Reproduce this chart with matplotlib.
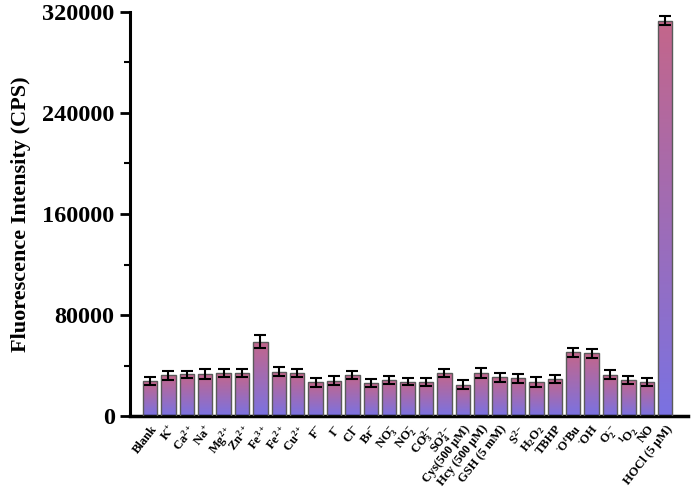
import numpy as np
import matplotlib
matplotlib.use("Agg")
import matplotlib.pyplot as plt
from matplotlib.colors import LinearSegmentedColormap

plt.rcParams['font.family'] = ['Liberation Serif', 'DejaVu Serif']
plt.rcParams['font.weight'] = 'bold'
plt.rcParams['mathtext.fontset'] = 'custom'
plt.rcParams['mathtext.rm'] = 'Liberation Serif:bold'
plt.rcParams['mathtext.it'] = 'Liberation Serif:bold:italic'
plt.rcParams['mathtext.bf'] = 'Liberation Serif:bold'
plt.rcParams['mathtext.sf'] = 'Liberation Serif:bold'

categories = ['Blank', 'K$^{+}$', 'Ca$^{2+}$', 'Na$^{+}$', 'Mg$^{2+}$', 'Zn$^{2+}$',
              'Fe$^{3+}$', 'Fe$^{2+}$', 'Cu$^{2+}$', 'F$^{-}$', 'I$^{-}$', 'Cl$^{-}$',
              'Br$^{-}$', 'NO$_{3}^{-}$', 'NO$_{2}^{-}$', 'CO$_{3}^{2-}$', 'SO$_{4}^{2-}$',
              'Cys(500 μM)', 'Hcy (500 μM)', 'GSH (5 mM)', 'S$^{2-}$', 'H$_{2}$O$_{2}$',
              'TBHP', '$^{\\bullet}$O$^{t}$Bu', '$^{\\bullet}$OH', 'O$_{2}^{\\bullet-}$',
              '$^{1}$O$_{2}$', 'NO', 'HOCl (5 μM)']
values = [27700, 32200, 33000, 33500, 34000, 33800, 58800, 35100, 34000, 26700,
          28000, 32500, 26100, 28300, 27300, 27000, 34000, 24800, 34300, 30600,
          29800, 26700, 29000, 50400, 49600, 32700, 28500, 27000, 313000]
errors = [3000, 3600, 3000, 3800, 3500, 3200, 5200, 3800, 3300, 3500,
          3600, 3000, 3200, 3300, 3000, 3000, 3500, 3800, 4000, 3500,
          3600, 3800, 3200, 3800, 3500, 3500, 3200, 3200, 3500]
yticks = [0, 80000, 160000, 240000, 320000]

fig = plt.figure(figsize=(6.92, 4.90), dpi=100)
ax = fig.add_axes([130/692, 1-416/490, (688-130)/692, (416-12)/490])

x = np.arange(len(categories))
bars = ax.bar(x, values, width=0.78, color='none', edgecolor='#5a5a5a', linewidth=1.0, zorder=3)

cmap = LinearSegmentedColormap.from_list('g', ['#7a72e2', '#c4668a'])
grad = np.linspace(0, 1, 256).reshape(-1, 1)
for b in bars:
    x0, w, h = b.get_x(), b.get_width(), b.get_height()
    im = ax.imshow(grad, cmap=cmap, origin='lower', aspect='auto',
                   extent=[x0, x0 + w, 0, h], zorder=2, interpolation='bilinear')
    im.set_clip_path(b)

ax.errorbar(x, values, yerr=errors, fmt='none', ecolor='black', elinewidth=1.5,
            capsize=4.5, capthick=1.5, zorder=4)

ax.set_xlim(-1.09, 29.24)
ax.set_ylim(0, 320000)
ax.set_yticks(yticks)
ax.set_yticklabels([str(v) for v in yticks], fontsize=17.5, fontweight='bold')
ax.set_yticks(np.arange(40000, 320000, 80000), minor=True)
ax.tick_params(axis='y', which='major', direction='out', length=7, width=2, pad=4)
ax.tick_params(axis='y', which='minor', direction='out', length=4, width=1.5)
ax.set_xticks(x)
ax.set_xticklabels(categories, rotation=52, ha='right', rotation_mode='anchor',
                   fontsize=9, fontweight='bold')
ax.tick_params(axis='x', length=0, pad=5)

for s in ['top', 'right']:
    ax.spines[s].set_visible(False)
ax.spines['left'].set_linewidth(2.2)
ax.spines['bottom'].set_linewidth(2.5)

ax.set_ylabel('Fluorescence Intensity (CPS)', fontsize=16, fontweight='bold', labelpad=8)

fig.savefig('out.png', dpi=100)
